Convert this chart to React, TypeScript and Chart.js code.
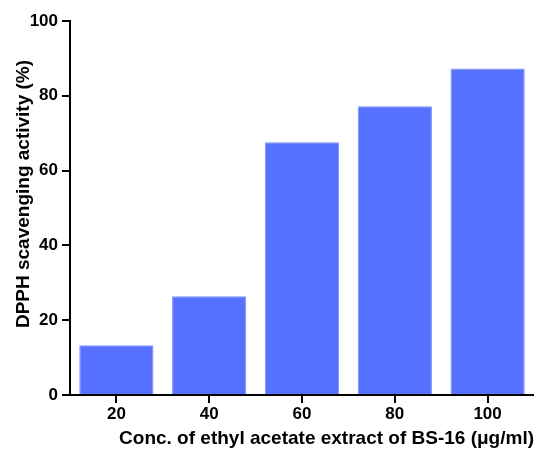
import React, { useEffect, useRef } from "react";
import { Chart, registerables } from "chart.js";

Chart.register(...registerables);

const categories = ["20", "40", "60", "80", "100"];
const scavenging = [13.3, 26.4, 67.6, 77.2, 87.3];
const yTicks = [0, 20, 40, 60, 80, 100];
const yTitle = "DPPH scavenging activity (%)";
const xTitle = "Conc. of ethyl acetate extract of BS-16 (μg/ml)";

const FAMILY = "Liberation Sans, Arial, sans-serif";

const yTitlePlugin = {
  id: "yTitlePlugin",
  afterDraw(chart: any) {
    const ctx = chart.ctx;
    ctx.save();
    ctx.font = `bold 19px ${FAMILY}`;
    ctx.fillStyle = "#000";
    ctx.textAlign = "center";
    ctx.textBaseline = "middle";
    ctx.translate(24, 194);
    ctx.rotate(-Math.PI / 2);
    ctx.fillText(yTitle, 0, 0);
    ctx.restore();
  },
};

export default function App() {
  const ref = useRef<HTMLCanvasElement | null>(null);
  useEffect(() => {
    if (!ref.current) return;
    const tickFont = { family: FAMILY, size: 17, weight: "bold" as const };
    const titleFont = { family: FAMILY, size: 19, weight: "bold" as const };
    const chart = new Chart(ref.current, {
      type: "bar",
      data: {
        labels: categories,
        datasets: [
          {
            data: scavenging,
            backgroundColor: "#5671FF",
            borderColor: "#7d8ff5",
            borderWidth: 1,
            borderSkipped: "bottom",
            barPercentage: 0.8,
            categoryPercentage: 1,
          },
        ],
      },
      plugins: [yTitlePlugin],
      options: {
        animation: false,
        responsive: false,
        maintainAspectRatio: false,
        layout: { padding: { top: 21, right: 0, bottom: 0, left: 0 } },
        plugins: { legend: { display: false }, tooltip: { enabled: false } },
        scales: {
          x: {
            grid: {
              display: true,
              drawOnChartArea: false,
              drawTicks: true,
              tickLength: 8,
              offset: false,
              color: "#000",
              lineWidth: 2,
            },
            border: { display: true, color: "#000", width: 2 },
            ticks: { color: "#000", font: tickFont, padding: 1, maxRotation: 0 },
            title: {
              display: true,
              text: xTitle,
              color: "#000",
              font: titleFont,
              align: "end",
              padding: { top: 0, bottom: 0 },
            },
            afterFit: (scale: any) => {
              scale.height = 55;
            },
          },
          y: {
            min: 0,
            max: 100,
            afterBuildTicks: (scale: any) => {
              scale.ticks = yTicks.map((v) => ({ value: v }));
            },
            grid: {
              display: true,
              drawOnChartArea: false,
              drawTicks: true,
              tickLength: 8,
              color: "#000",
              lineWidth: 2,
            },
            border: { display: true, color: "#000", width: 2 },
            ticks: { color: "#000", font: tickFont, padding: 4 },
            afterFit: (scale: any) => {
              scale.width = 70;
            },
          },
        },
      },
    });
    return () => chart.destroy();
  }, []);
  return (
    <div style={{ position: "fixed", left: 0, top: 0, width: 534, height: 450, background: "#fff" }}>
      <canvas ref={ref} width={534} height={450} style={{ width: 534, height: 450, display: "block" }} />
    </div>
  );
}
